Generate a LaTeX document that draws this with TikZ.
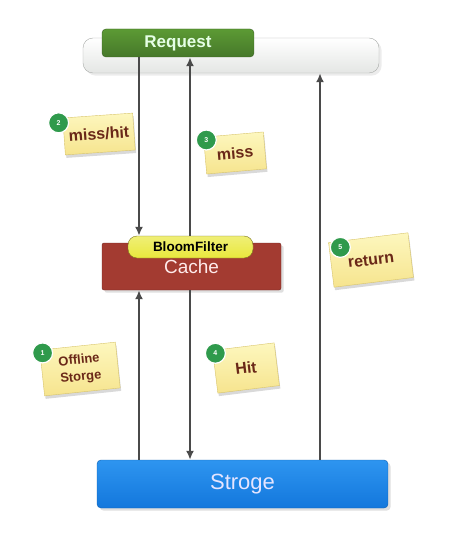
\documentclass[tikz,border=0pt]{standalone}
\usepackage{fontspec}
\setmainfont{Liberation Sans}
\usetikzlibrary{shapes,arrows.meta,shadows}
\usetikzlibrary{calc,positioning}

\definecolor{bargray}{HTML}{E4E6E4}
\definecolor{barline}{HTML}{A8ABA8}
\definecolor{reqtop}{HTML}{5C9A34}
\definecolor{reqbot}{HTML}{46782A}
\definecolor{cachered}{HTML}{A33B31}
\definecolor{bloomyel}{HTML}{E9E83C}
\definecolor{bloomline}{HTML}{7A7420}
\definecolor{storetop}{HTML}{2E95F0}
\definecolor{storebot}{HTML}{1377DC}
\definecolor{noteA}{HTML}{FDF7BE}
\definecolor{noteB}{HTML}{F6E48E}
\definecolor{noteline}{HTML}{D8C46A}
\definecolor{notetxt}{HTML}{6A2818}
\definecolor{numgreen}{HTML}{2F9A4C}
\definecolor{flowgray}{HTML}{4A4A4A}

\tikzset{
  box/.style={draw, rectangle, inner sep=0pt, align=center},
  note/.style={draw=noteline, rectangle, top color=noteA, bottom color=noteB, text=notetxt, align=center, inner sep=0pt,
    font=\bfseries\fontsize{16}{17}\selectfont, drop shadow={opacity=.3, shadow xshift=1pt, shadow yshift=-3pt}},
  num/.style={draw=white, line width=1.2pt, circle, fill=numgreen, text=white, minimum size=20pt, inner sep=0pt,
    font=\bfseries\fontsize{7}{7}\selectfont},
  flow/.style={draw=flowgray, line width=2.2pt, -{Latex[length=9pt,width=8pt]}}
}

\begin{document}
\begin{tikzpicture}[x=1pt, y=-1pt]
\useasboundingbox (0,0) rectangle (461,540);

% boxes
\node (bar) [box, draw=barline, top color=white, bottom color=bargray, rounded corners=10pt, minimum width=296pt, minimum height=35pt, drop shadow={opacity=.15}] at (231,55.5) {};
\node (req) [box, draw=reqbot!80!black, top color=reqtop, bottom color=reqbot, rounded corners=4pt, minimum width=152pt, minimum height=28pt, text=white!90!green, font=\bfseries\fontsize{17}{17}\selectfont] at (178,43) {Request};
\node (cache) [box, draw=cachered!70!black, fill=cachered, rounded corners=2pt, minimum width=179pt, minimum height=47pt, text=red!8, font=\fontsize{19}{19}\selectfont, text depth=-9pt, drop shadow={opacity=.25}] at (191.5,266.5) {Cache};
\node (bloom) [box, draw=bloomline, top color=bloomyel!70!white, bottom color=bloomyel, rounded corners=9pt, minimum width=125pt, minimum height=22pt, font=\bfseries\fontsize{13.5}{14}\selectfont] at (190.5,247) {BloomFilter};
\node (store) [box, draw=storebot!80!black, top color=storetop, bottom color=storebot, rounded corners=4pt, minimum width=291pt, minimum height=48pt, text=blue!10!white, font=\fontsize{22}{22}\selectfont, drop shadow={opacity=.25}] at (242.5,484) {Stroge};

% flows
\coordinate (lx) at (139,0);
\coordinate (mx) at (190,0);
\coordinate (rx) at (320,0);
\draw [flow] (lx |- req.south) -- (lx |- bloom.north);
\draw [flow] (mx |- bloom.north) -- (mx |- req.south);
\draw [flow] (lx |- store.north) -- (lx |- cache.south);
\draw [flow] (mx |- cache.south) -- (mx |- store.north);
\draw [flow] (rx |- store.north) -- (rx |- bar.south);

% notes
\node (note1) [note, rotate=6, minimum width=76pt, minimum height=46pt, font=\bfseries\fontsize{13}{17}\selectfont] at (80,369) {Offline\\Storge};
\node (note2) [note, rotate=4, minimum width=70pt, minimum height=37pt] at (99,134) {miss/hit};
\node (note3) [note, rotate=5, minimum width=60pt, minimum height=37pt] at (235,153) {miss};
\node (note4) [note, rotate=7, minimum width=62pt, minimum height=43pt] at (246,368) {Hit};
\node (note5) [note, rotate=7, minimum width=80pt, minimum height=45pt] at (371,260) {return};

\node (num1) [num] at ($(note1.north west)+(3,3)$) {1};
\node (num2) [num] at ($(note2.north west)+(-4,5)$) {2};
\node (num3) [num] at ($(note3.north west)+(3,3)$) {3};
\node (num4) [num] at ($(note4.north west)+(3,3)$) {4};
\node (num5) [num] at ($(note5.north west)+(12,5)$) {5};
\end{tikzpicture}
\end{document}
